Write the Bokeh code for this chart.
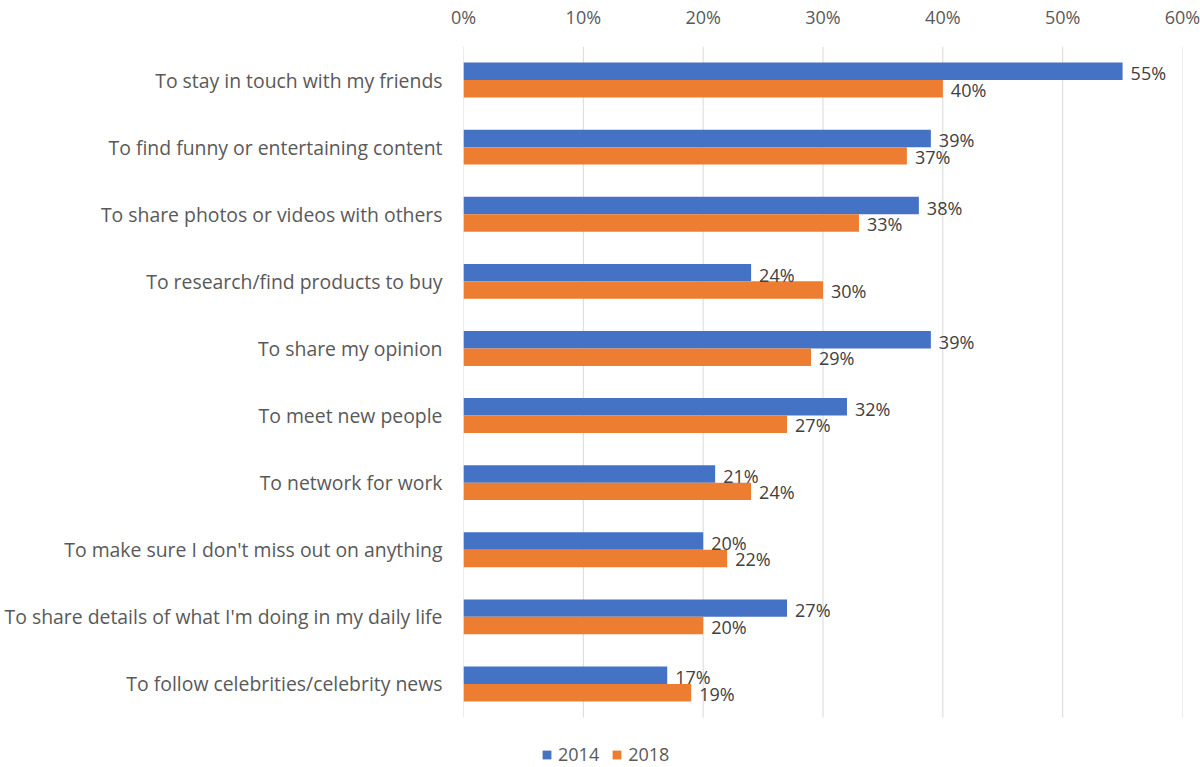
from bokeh.plotting import figure
from bokeh.models import (ColumnDataSource, Legend, LegendItem, NumeralTickFormatter,
                          Range1d, FixedTicker)
from bokeh.embed import file_html
from bokeh.resources import INLINE
from bokeh.core.properties import value

categories = [
    "To stay in touch with my friends",
    "To find funny or entertaining content",
    "To share photos or videos with others",
    "To research/find products to buy",
    "To share my opinion",
    "To meet new people",
    "To network for work",
    "To make sure I don't miss out on anything",
    "To share details of what I'm doing in my daily life",
    "To follow celebrities/celebrity news",
]
y2014 = [55, 39, 38, 24, 39, 32, 21, 20, 27, 17]
y2018 = [40, 37, 33, 30, 29, 27, 24, 22, 20, 19]
series = ["2014", "2018"]
ticks = [0, 0.1, 0.2, 0.3, 0.4, 0.5, 0.6]

FONT = "Open Sans"
BLUE = "#4472C4"
ORANGE = "#ED7D31"

n = len(categories)
pos = [n - 1 - i for i in range(n)]          # top category highest
BAR_H = 0.26
OFF = 0.13

src = ColumnDataSource(dict(
    y14=[p_ + OFF for p_ in pos],
    y18=[p_ - OFF for p_ in pos],
    v14=[v / 100 for v in y2014],
    v18=[v / 100 for v in y2018],
    l14=[f"{v}%" for v in y2014],
    l18=[f"{v}%" for v in y2018],
))

# frame: 671 px for the category bands + 50 px below for the legend
FRAME_BANDS = 671
EXTRA = 50
unit = FRAME_BANDS / n
p = figure(
    frame_width=719, frame_height=FRAME_BANDS + EXTRA,
    y_range=Range1d(-0.5 - EXTRA / unit, n - 0.5),
    x_range=Range1d(0, 0.6),
    x_axis_location="above",
    output_backend="svg", toolbar_location=None,
    min_border_left=463, min_border_right=18, min_border_top=46, min_border_bottom=0,
)
p.outline_line_color = None
p.background_fill_color = "white"

# vertical gridlines limited to the category area
grid_src = ColumnDataSource(dict(x=ticks, y0=[-0.5] * len(ticks), y1=[n - 0.5] * len(ticks)))
p.segment(x0="x", x1="x", y0="y0", y1="y1", source=grid_src, line_color="#D9D9D9", line_width=1)

r14 = p.hbar(y="y14", right="v14", left=0, height=BAR_H,
             source=src, fill_color=BLUE, line_color=None)
r18 = p.hbar(y="y18", right="v18", left=0, height=BAR_H,
             source=src, fill_color=ORANGE, line_color=None)

p.text(x="v14", y="y14", text="l14", source=src,
       x_offset=8, y_offset=2, text_baseline="middle", text_align="left",
       text_font=value(FONT), text_font_size="18px", text_color="#404040")
p.text(x="v18", y="y18", text="l18", source=src,
       x_offset=8, y_offset=1, text_baseline="middle", text_align="left",
       text_font=value(FONT), text_font_size="18px", text_color="#404040")

xa = p.xaxis[0]
xa.ticker = FixedTicker(ticks=ticks)
xa.formatter = NumeralTickFormatter(format="0%")
xa.axis_line_color = None
xa.major_tick_line_color = None
xa.minor_tick_line_color = None
xa.major_label_text_font = FONT
xa.major_label_text_font_size = "18px"
xa.major_label_text_color = "#595959"
xa.major_label_standoff = 12

ya = p.yaxis[0]
ya.ticker = FixedTicker(ticks=pos)
ya.major_label_overrides = {p_: c for p_, c in zip(pos, categories)}
ya.axis_line_color = None
ya.major_tick_line_color = None
ya.minor_tick_line_color = None
ya.major_label_text_font = FONT
ya.major_label_text_font_size = "19.4px"
ya.major_label_text_color = "#595959"
ya.major_label_standoff = 15

p.xgrid.grid_line_color = None
p.ygrid.grid_line_color = None

legend = Legend(items=[LegendItem(label=series[0], renderers=[r14]),
                       LegendItem(label=series[1], renderers=[r18])],
                orientation="horizontal", location=(78, 1),
                label_text_font=FONT, label_text_font_size="18px", label_text_color="#595959",
                glyph_width=11, glyph_height=11, label_standoff=6, spacing=12,
                label_height=22,
                border_line_color=None, background_fill_alpha=0, margin=0, padding=0)
p.add_layout(legend, "center")

open("out.html", "w").write(file_html(p, INLINE))
